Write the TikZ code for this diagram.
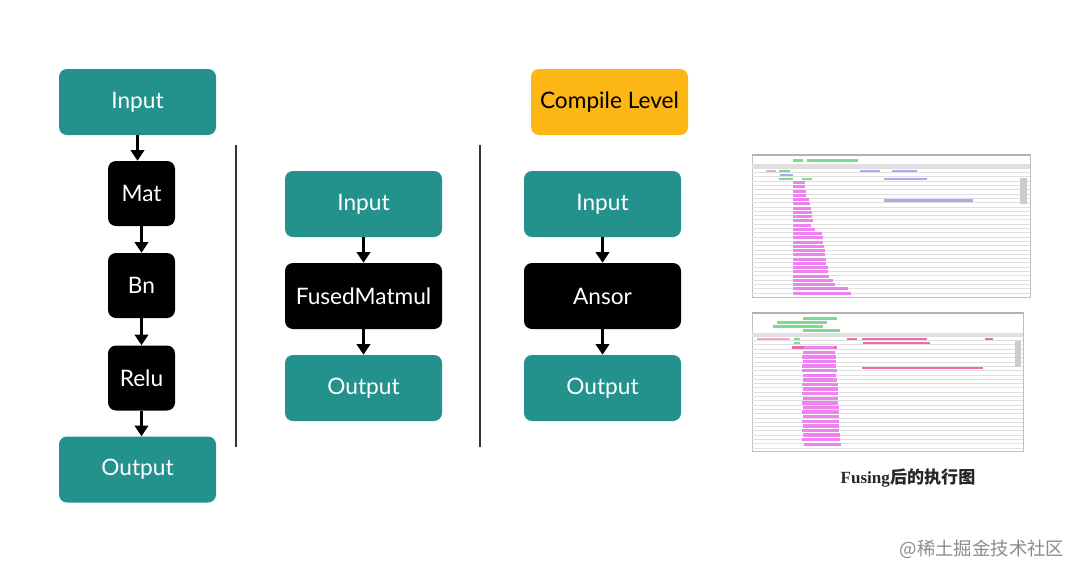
\documentclass[tikz,border=0pt]{standalone}
\usepackage{fontspec}
\setmainfont{Lato}
\newfontfamily\cjk{Noto Sans CJK SC}
\newfontfamily\capserif{Liberation Serif}
\usetikzlibrary{arrows.meta}
\definecolor{tealbox}{HTML}{23918C}
\definecolor{ambox}{HTML}{FDB714}
\definecolor{gbar}{HTML}{7EDB8E}
\definecolor{bbar}{HTML}{A9ABF2}
\definecolor{mbar}{HTML}{EE82EE}
\definecolor{pbar}{HTML}{F06CA8}
\tikzset{
  base/.style={rounded corners=6pt, inner sep=0pt, font=\fontsize{17}{20}\selectfont},
  tealnode/.style={base, fill=tealbox, text=white, minimum width=117.75pt, minimum height=49.5pt},
  blknode/.style={base, fill=black, text=white, minimum width=117.75pt, minimum height=49.5pt},
  smallblk/.style={base, fill=black, text=white, minimum width=50.25pt, minimum height=48.75pt},
  ambnode/.style={base, fill=ambox, text=black, minimum width=117.75pt, minimum height=49.5pt},
  flow/.style={line width=2.2pt, -{Triangle[width=10pt,length=8pt]}},
  divider/.style={line width=1pt, black!80},
  shot/.style={draw=black!25, line width=0.4pt, fill=white},
}
\begin{document}
\begin{tikzpicture}[x=0.75pt,y=-0.75pt]
\useasboundingbox[fill=white] (0,0) rectangle (1080,579);

% left column
\node[tealnode] (inL) at (137.5,102) {Input};
\node[smallblk] (mat) at (141.5,193.5) {Mat};
\node[smallblk] (bn) at (141.5,285.5) {Bn};
\node[smallblk] (relu) at (141.5,378) {Relu};
\node[tealnode] (outL) at (137.5,469.5) {Output};
\draw[flow] (inL.south) -- (inL.south |- mat.north);
\draw[flow] (mat.south) -- (bn.north);
\draw[flow] (bn.south) -- (relu.north);
\draw[flow] (relu.south) -- (relu.south |- outL.north);

% dividers
\coordinate (d1a) at (236,145); \coordinate (d1b) at (236,447);
\coordinate (d2a) at (480,145); \coordinate (d2b) at (480,447);
\draw[divider] (d1a) -- (d1b);
\draw[divider] (d2a) -- (d2b);

% middle column
\node[tealnode] (inM) at (363.5,204) {Input};
\node[blknode] (fused) at (363.5,296) {FusedMatmul};
\node[tealnode] (outM) at (363.5,388) {Output};
\draw[flow] (inM.south) -- (fused.north);
\draw[flow] (fused.south) -- (outM.north);

% right column
\node[ambnode] (compile) at (609.5,102) {Compile Level};
\node[tealnode] (inR) at (602.5,204) {Input};
\node[blknode] (ansor) at (602.5,296) {Ansor};
\node[tealnode] (outR) at (602.5,388) {Output};
\draw[flow] (inR.south) -- (ansor.north);
\draw[flow] (ansor.south) -- (outR.north);

% top screenshot
\draw[shot] (752,154) rectangle (1030,297);
\fill[black!30] (752,154) rectangle (1030,156);
\fill[gbar] (793,158.5) rectangle (803,161.5);
\fill[gbar] (807,158.5) rectangle (858,161.5);
\fill[black!12] (752,164) rectangle (1030,168);
\foreach \i in {0,...,29} {
  \pgfmathsetmacro{\yy}{168+\i*4.3}
  \draw[black!12, line width=0.3pt] (752,\yy) -- (1030,\yy);
}
\fill[bbar] (860,169.5) rectangle (880,171.5);
\fill[bbar] (892,169.5) rectangle (917,171.5);
\fill[gbar] (779,169.5) rectangle (790,171.5);
\fill[pbar!60] (766,169.5) rectangle (776,171.5);
\fill[bbar] (780,173.5) rectangle (793,175.5);
\fill[gbar] (779,177.5) rectangle (793,179.5);
\fill[gbar] (802,177.5) rectangle (812,179.5);
\fill[bbar] (884,177.5) rectangle (927,179.5);
\fill[bbar] (884,199) rectangle (973,201.5);
\foreach \i/\w in {0/12,1/12,2/13,3/13,4/16,5/17,6/18,7/19,8/19,9/20,10/18,11/22,12/29,13/30,14/30,15/31,16/32,17/32,18/33,19/33,20/35,21/35,22/36,23/40,24/42,25/55,26/58} {
  \pgfmathsetmacro{\yy}{181+\i*4.25}
  \pgfmathsetmacro{\xx}{793+\w}
  \fill[mbar] (793,\yy) rectangle (\xx,\yy+3.2);
}
\fill[black!20] (1020,178) rectangle (1027,204);

% bottom screenshot
\draw[shot] (752,312) rectangle (1023,451);
\fill[black!30] (752,312) rectangle (1023,314);
\fill[gbar] (803,317) rectangle (837,319.5);
\fill[gbar] (777,321) rectangle (827,323.5);
\fill[gbar] (773,325) rectangle (823,327.5);
\fill[gbar] (803,329) rectangle (840,331.5);
\fill[black!12] (752,333) rectangle (1023,336);
\foreach \i in {0,...,26} {
  \pgfmathsetmacro{\yy}{336+\i*4.3}
  \draw[black!12, line width=0.3pt] (752,\yy) -- (1023,\yy);
}
\fill[pbar] (862,337.5) rectangle (927,340);
\fill[pbar] (847,337.5) rectangle (857,340);
\fill[pbar] (985,337.5) rectangle (993,340);
\fill[pbar!60] (757,337.5) rectangle (790,340);
\fill[gbar] (794,337.5) rectangle (800,340);
\fill[gbar] (794,341.5) rectangle (800,344);
\fill[pbar] (863,341.5) rectangle (930,344);
\fill[pbar] (792,346) rectangle (837,348.5);
\fill[pbar] (862,366.5) rectangle (983,369);
\foreach \i/\s/\w in {0/804/30,1/803/32,2/802/34,3/803/33,4/802/34,5/802/35,6/803/33,7/803/34,8/802/36,9/803/35,10/802/36,11/803/35,12/802/36,13/803/36,14/802/37,15/803/36,16/802/37,17/803/36,18/802/37,19/803/37,20/802/38,21/804/37} {
  \pgfmathsetmacro{\yy}{346+\i*4.6}
  \pgfmathsetmacro{\xx}{\s+\w}
  \fill[mbar] (\s,\yy) rectangle (\xx,\yy+3.4);
}
\fill[black!20] (1015,341) rectangle (1021,367);

% caption and watermark
\node[font=\fontsize{12.8}{15}\selectfont, text=black!85] (cap) at (908,478) {\capserif\bfseries Fusing\cjk 后的执行图};
\node[font=\fontsize{13.8}{16}\selectfont, text=black!45] (wm) at (982,549) {\cjk @稀土掘金技术社区};
\end{tikzpicture}
\end{document}
